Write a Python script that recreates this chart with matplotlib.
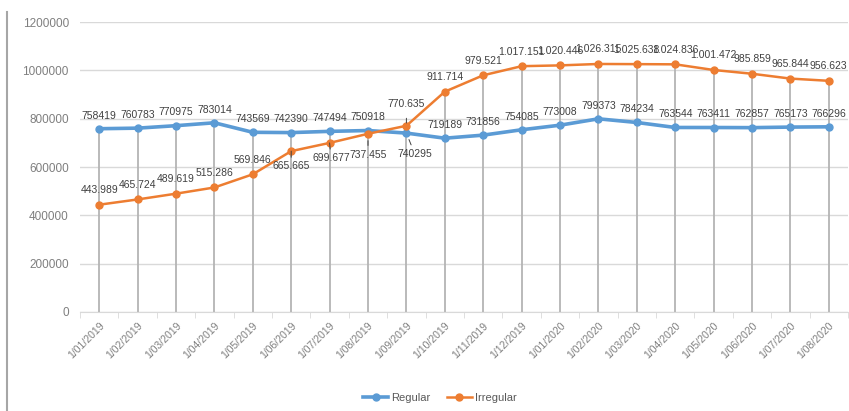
import numpy as np
import matplotlib
matplotlib.use("Agg")
import matplotlib.pyplot as plt
from matplotlib.lines import Line2D

plt.rcParams["font.family"] = ["Liberation Sans", "DejaVu Sans"]

months = ["1/01/2019", "1/02/2019", "1/03/2019", "1/04/2019", "1/05/2019",
          "1/06/2019", "1/07/2019", "1/08/2019", "1/09/2019", "1/10/2019",
          "1/11/2019", "1/12/2019", "1/01/2020", "1/02/2020", "1/03/2020",
          "1/04/2020", "1/05/2020", "1/06/2020", "1/07/2020", "1/08/2020"]
regular = [758419, 760783, 770975, 783014, 743569, 742390, 747494, 750918,
           740295, 719189, 731856, 754085, 773008, 799373, 784234, 763544,
           763411, 762857, 765173, 766296]
irregular = [443989, 465724, 489619, 515286, 569846, 665665, 699677, 737455,
             770635, 911714, 979521, 1017151, 1020446, 1026315, 1025638,
             1024836, 1001472, 985859, 965844, 956623]

BLUE = "#5B9BD5"
ORANGE = "#ED7D31"
GRID = "#D9D9D9"
TXT = "#404040"
TICK = "#7F7F7F"


def dotted(v):
    # Excel-style thousands separator with dots
    return f"{v:,}".replace(",", ".")


fig = plt.figure(figsize=(8.49, 4.11), dpi=100)
ax = fig.add_axes([80 / 849, 1 - 312 / 411, 768 / 849, 290 / 411])

x = np.arange(len(months))

# drop lines from the higher series down to zero
ax.vlines(x, 0, np.maximum(regular, irregular), color="#B4B4B4", lw=1.3, zorder=1)

ax.plot(x, regular, color=BLUE, lw=2.6, marker="o", ms=5, zorder=3, label="Regular")
ax.plot(x, irregular, color=ORANGE, lw=1.8, marker="o", ms=5, zorder=3, label="Irregular")

ax.set_ylim(0, 1200000)
ax.set_xlim(-0.5, len(months) - 0.5)
ax.set_yticks(np.arange(0, 1200001, 200000))
ax.yaxis.set_major_formatter(matplotlib.ticker.FuncFormatter(lambda v, p: f"{int(v)}"))
ax.grid(axis="y", color=GRID, lw=1.0)
ax.set_axisbelow(True)

ax.set_xticks(x)
ax.set_xticklabels(months, rotation=45, ha="right", rotation_mode="anchor",
                   fontsize=7.5, color=TICK)
ax.tick_params(axis="x", length=0, pad=6)
ax.set_xticks(np.arange(-0.5, len(months), 1), minor=True)
ax.tick_params(axis="x", which="minor", length=4, color=GRID)
ax.tick_params(axis="y", length=0, labelsize=8.5, labelcolor=TICK, pad=8)

for s in ["top", "right", "left"]:
    ax.spines[s].set_visible(False)
ax.spines["bottom"].set_color(GRID)

# regular labels: above, except 1/09/2019 which sits below with a leader
for i, v in enumerate(regular):
    if i == 8:
        ax.annotate(str(v), xy=(i, v), xytext=(6, -15), textcoords="offset points",
                    ha="center", va="center", fontsize=7.5, color=TXT,
                    arrowprops=dict(arrowstyle="-", color="#404040", lw=0.7,
                                    shrinkA=1, shrinkB=5))
    else:
        ax.annotate(str(v), xy=(i, v), xytext=(0, 9.5), textcoords="offset points",
                    ha="center", va="center", fontsize=7.5, color=TXT)

below = {5: (0, -11), 6: (1, -11), 7: (0, -15)}
for i, v in enumerate(irregular):
    if i in below:
        ax.annotate(dotted(v), xy=(i, v), xytext=below[i], textcoords="offset points",
                    ha="center", va="center", fontsize=7.5, color=TXT,
                    arrowprops=dict(arrowstyle="-", color="#404040", lw=0.7,
                                    shrinkA=1, shrinkB=5))
    elif i == 8:
        ax.annotate(dotted(v), xy=(i, v), xytext=(0, 16), textcoords="offset points",
                    ha="center", va="center", fontsize=7.5, color=TXT,
                    arrowprops=dict(arrowstyle="-", color="#404040", lw=0.7,
                                    shrinkA=5, shrinkB=2))
    else:
        ax.annotate(dotted(v), xy=(i, v), xytext=(0, 10.5), textcoords="offset points",
                    ha="center", va="center", fontsize=7.5, color=TXT)

fig.legend(loc="center", bbox_to_anchor=(440 / 849, 1 - 398 / 411), ncol=2,
           frameon=False, fontsize=8, labelcolor="#595959", handlelength=2.2,
           columnspacing=1.5, handletextpad=0.3)

# left frame border
fig.add_artist(Line2D([7 / 849, 7 / 849], [0, 1 - 12 / 411], color="#A6A6A6", lw=1.5,
                      transform=fig.transFigure))

fig.savefig("out.png", dpi=100)
